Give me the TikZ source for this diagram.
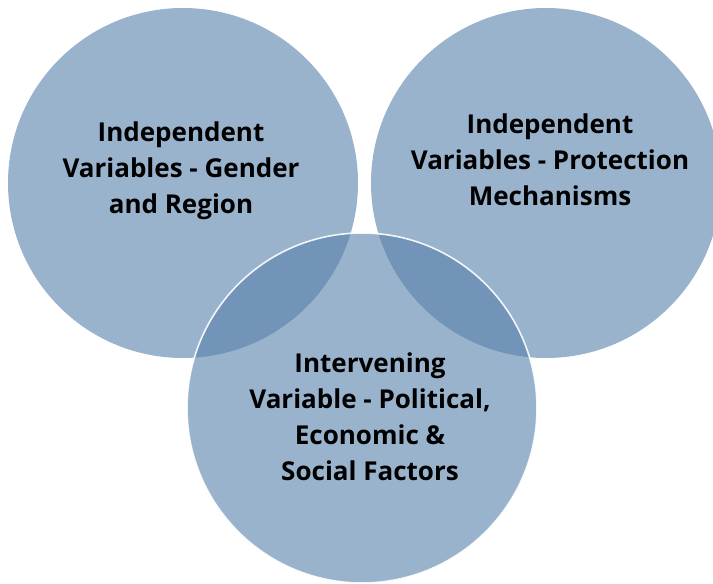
\documentclass[tikz,border=0pt]{standalone}
\usepackage{fontspec}
\setmainfont{Open Sans}
\usepackage{xcolor}
\definecolor{setblue}{RGB}{84,126,170}

\tikzset{
  venn/.style={fill=setblue, fill opacity=0.59, draw=none},
  vennlabel/.style={align=center, font=\fontsize{26}{36}\selectfont\bfseries, text=black}
}

\begin{document}
\begin{tikzpicture}[x=1pt, y=-1pt]
  \useasboundingbox (0,0) rectangle (713,584);

  \coordinate (L) at (183, 183);
  \coordinate (R) at (546, 183);
  \coordinate (B) at (362, 408);

  % the three sets
  \fill[venn] (L) circle (175);
  \fill[venn] (R) circle (175);
  \filldraw[venn, draw=white, draw opacity=0.9, line width=1.6pt] (B) circle (175);

  \node[vennlabel] (gender) at (181, 171) {Independent\\Variables - Gender\\and Region};
  \node[vennlabel] (protect) at (550, 160) {Independent\\Variables - Protection\\Mechanisms};
  \node[vennlabel] (factors) at (370, 417) {Intervening\\Variable - Political,\\Economic \&\\Social Factors};
\end{tikzpicture}
\end{document}
